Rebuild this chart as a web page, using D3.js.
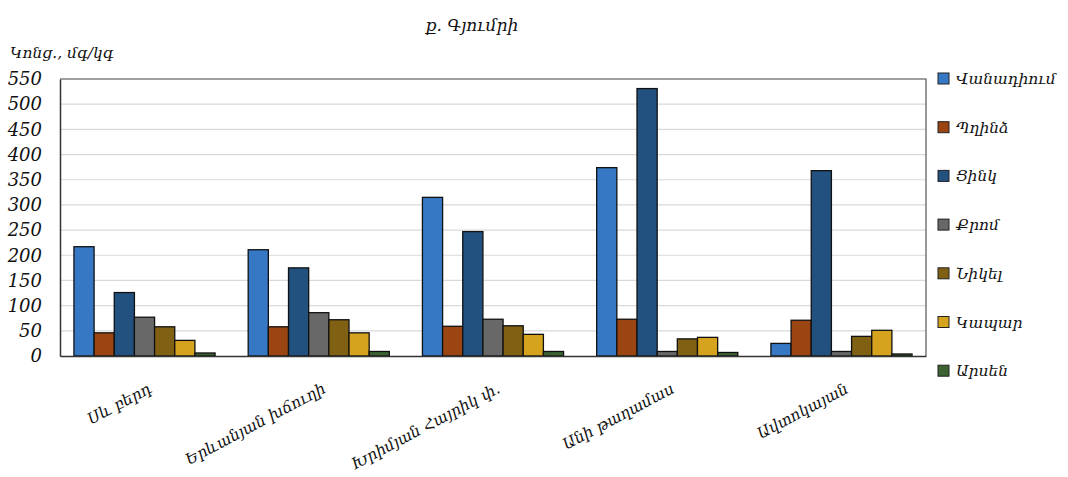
<!DOCTYPE html>
<html>
<head>
<meta charset="utf-8">
<script src="https://cdn.jsdelivr.net/npm/d3@7"></script>
<style>
  body { margin: 0; background: #fff; }
  text { font-family: "DejaVu Serif", serif; font-style: italic; fill: #111; }
</style>
</head>
<body>
<script>
// size of the page
var w = 1068;
var h = 477;

// data
var categories = ["Սև բերդ", "Երևանյան խճուղի", "Խրիմյան Հայրիկ փ.", "Անի թաղամաս", "Ավտոկայան"];
var seriesNames = ["Վանադիում", "Պղինձ", "Ցինկ", "Քրոմ", "Նիկել", "Կապար", "Արսեն"];
var vanadium = [217, 211, 315, 374, 25];
var copper   = [46, 58, 59, 73, 71];
var zinc     = [126, 175, 247, 531, 368];
var chromium = [77, 86, 73, 9, 9];
var nickel   = [58, 72, 60, 34, 39];
var lead     = [31, 46, 43, 37, 51];
var arsenic  = [6, 9, 9, 7, 4];
var yTicks = [0, 50, 100, 150, 200, 250, 300, 350, 400, 450, 500, 550];

var values = [vanadium, copper, zinc, chromium, nickel, lead, arsenic];
var colors = ["#3678c4", "#9b4512", "#22507f", "#686868", "#806114", "#d6a31e", "#3c6232"];

var m = { left: 60, right: 926, top: 79, bottom: 356 };

var svg = d3.select("body").append("svg")
  .attr("width", w)
  .attr("height", h);

var x0 = d3.scaleBand()
  .domain(d3.range(categories.length))
  .range([m.left, m.right])
  .paddingInner(0.19)
  .paddingOuter(0.08);

var x1 = d3.scaleBand()
  .domain(d3.range(seriesNames.length))
  .range([0, x0.bandwidth()]);

var y = d3.scaleLinear()
  .domain([0, 550])
  .range([m.bottom, m.top]);

// grid lines
svg.append("g")
  .selectAll("line")
  .data(yTicks.slice(1))
  .enter()
  .append("line")
  .attr("x1", m.left)
  .attr("x2", m.right)
  .attr("y1", function(d) { return y(d); })
  .attr("y2", function(d) { return y(d); })
  .attr("stroke", "#d9d9d9")
  .attr("stroke-width", 1.2);

// frame top/right
svg.append("path")
  .attr("d", "M" + m.left + "," + m.top + "H" + m.right + "V" + m.bottom)
  .attr("fill", "none")
  .attr("stroke", "#555")
  .attr("stroke-width", 1.2);

// bars
var groups = svg.selectAll("g.cat")
  .data(categories)
  .enter()
  .append("g")
  .attr("class", "cat")
  .attr("transform", function(d, i) { return "translate(" + x0(i) + ",0)"; });

groups.selectAll("rect")
  .data(function(d, i) {
    return values.map(function(s, j) { return { s: j, v: s[i] }; });
  })
  .enter()
  .append("rect")
  .attr("x", function(d) { return x1(d.s); })
  .attr("width", x1.bandwidth())
  .attr("y", function(d) { return y(d.v); })
  .attr("height", function(d) { return y(0) - y(d.v); })
  .attr("fill", function(d) { return colors[d.s]; })
  .attr("stroke", "#111")
  .attr("stroke-width", 1.3);

// y axis
var yAxis = svg.append("g")
  .attr("transform", "translate(" + m.left + ",0)")
  .call(d3.axisLeft(y).tickValues(yTicks).tickSize(0).tickPadding(18));
yAxis.select(".domain").attr("stroke", "#333").attr("stroke-width", 1.5);
yAxis.selectAll("text")
  .style("font-family", "DejaVu Serif, serif")
  .style("font-style", "italic")
  .style("font-size", "18px")
  .attr("fill", "#111");

// x axis
var xAxis = svg.append("g")
  .attr("transform", "translate(0," + m.bottom + ")")
  .call(d3.axisBottom(x0).tickSize(0).tickFormat(function(i) { return categories[i]; }));
xAxis.select(".domain").attr("stroke", "#333").attr("stroke-width", 1.5);
xAxis.selectAll("text")
  .style("font-family", "DejaVu Serif, serif")
  .style("font-style", "italic")
  .style("font-size", "15.5px")
  .attr("fill", "#111")
  .attr("text-anchor", "end")
  .attr("dy", 0)
  .attr("y", 0)
  .attr("transform", "translate(8,36) rotate(-28)");

// title and axis label
svg.append("text")
  .attr("x", 472)
  .attr("y", 31)
  .attr("text-anchor", "middle")
  .style("font-size", "17px")
  .text("ք. Գյումրի");

svg.append("text")
  .attr("x", 10)
  .attr("y", 58)
  .style("font-size", "15.5px")
  .text("Կոնց., մգ/կգ");

// legend
var legend = svg.selectAll("g.leg")
  .data(seriesNames)
  .enter()
  .append("g")
  .attr("class", "leg")
  .attr("transform", function(d, i) { return "translate(938," + (73 + i * 48.7) + ")"; });

legend.append("rect")
  .attr("width", 11)
  .attr("height", 11)
  .attr("fill", function(d, i) { return colors[i]; })
  .attr("stroke", "#222")
  .attr("stroke-width", 1);

legend.append("text")
  .attr("x", 18)
  .attr("y", 11)
  .style("font-size", "15.5px")
  .text(function(d) { return d; });
</script>
</body>
</html>
